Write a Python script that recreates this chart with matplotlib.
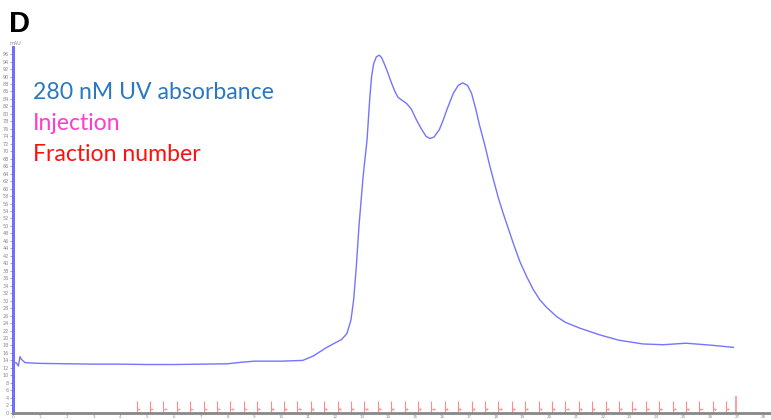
import matplotlib.pyplot as plt
from matplotlib.ticker import MultipleLocator

# UV trace (min, mAU)
time_min = [0.0, 0.0, 0.03, 0.12, 0.19, 0.25, 0.3, 0.44, 0.7, 1.0, 2.0, 3.0, 4.0,
            5.0, 6.0, 7.0, 8.0, 8.5, 9.0, 9.5, 10.0, 10.8, 11.2, 11.7, 12.25,
            12.45, 12.6, 12.7, 12.8, 12.9, 13.05, 13.2, 13.3, 13.37, 13.45, 13.55,
            13.66, 13.75, 13.85, 13.95, 14.1, 14.24, 14.35, 14.49, 14.6, 14.7,
            14.85, 15.05, 15.2, 15.4, 15.55, 15.7, 15.9, 16.04, 16.2, 16.42,
            16.6, 16.77, 16.95, 17.1, 17.25, 17.41, 17.6, 17.79, 17.95, 18.1,
            18.28, 18.66, 18.9, 19.16, 19.4, 19.65, 19.9, 20.28, 20.6, 21.15,
            21.9, 22.6, 23.5, 24.25, 25.1, 26.0, 26.87]
uv_mau = [0.0, 98.0, 13.5, 13.3, 12.5, 15.0, 14.3, 13.4, 13.3, 13.2, 13.1, 13.0, 13.0,
          12.9, 12.9, 13.0, 13.1, 13.5, 13.8, 13.8, 13.8, 14.0, 15.2, 17.5, 19.6,
          21.2, 24.8, 30.2, 39.1, 50.0, 63.0, 73.0, 84.0, 90.0, 93.5, 95.3,
          95.7, 95.0, 93.3, 91.5, 88.5, 86.0, 84.5, 83.7, 83.2, 82.6,
          81.3, 78.3, 76.3, 74.0, 73.4, 73.8, 75.8, 78.3, 81.5, 85.5,
          87.6, 88.3, 87.6, 85.5, 81.5, 76.6, 71.5, 65.8, 61.5, 57.5,
          53.4, 45.3, 40.5, 36.4, 33.0, 30.2, 28.2, 25.7, 24.2, 22.6,
          20.8, 19.4, 18.4, 18.2, 18.6, 18.1, 17.5]

injection_time = 0.0
injection_height = 30

# fraction marks every 0.5 min from 4.6 to 26.6, plus the end mark
fraction_times = [4.6 + 0.5 * i for i in range(45)]
fraction_labels = [str(i + 1) for i in range(45)]
end_mark_time = 26.95

legend_lines = ["280 nM UV absorbance", "Injection", "Fraction number"]
legend_colors = ["#2a78c2", "#ff3ccf", "#ff1010"]

fig = plt.figure(figsize=(7.71, 4.20), dpi=100)
ax = fig.add_axes([0.01725, 0.01738, 0.9819, 0.8716])

ax.plot(time_min, uv_mau, color="#7474ff", lw=1.0, zorder=3)
ax.vlines(injection_time, 0, injection_height, color="#ff55dd", lw=1.5, zorder=2)

ax.vlines(fraction_times, 0, 3, color="#ff8c8c", lw=0.8)
ax.hlines([1.0] * len(fraction_times), fraction_times,
          [t + 0.12 for t in fraction_times], color="#ff8c8c", lw=0.6)
for t, lab in zip(fraction_times, fraction_labels):
    ax.text(t + 0.04, 0.3, lab, fontsize=2, color="#ff8c8c", va="bottom")
ax.vlines(end_mark_time, 0, 4.5, color="#ff8c8c", lw=1.2)

ax.set_xlim(0, 28.25)
ax.set_ylim(0, 98)
ax.xaxis.set_major_locator(MultipleLocator(1))
ax.xaxis.set_minor_locator(MultipleLocator(0.2))
ax.set_yticks(range(0, 97, 2))
ax.tick_params(axis="y", which="major", labelsize=3.5, colors="#888888",
               length=2, width=0.5, pad=1)
ax.tick_params(axis="x", which="major", labelsize=3, colors="#888888",
               length=1, width=0.5, pad=0.3)
ax.tick_params(axis="x", which="minor", length=1, width=0.4, colors="#888888")

for side in ["top", "right"]:
    ax.spines[side].set_visible(False)
ax.spines["left"].set_color("#5a5aff")
ax.spines["left"].set_linewidth(2)
ax.spines["bottom"].set_color("#888888")
ax.spines["bottom"].set_linewidth(2)

fig.text(0.012, 0.893, "mAU", fontsize=3.5, color="#888888")
fig.text(0.012, 0.925, "D", fontsize=21, fontweight="bold",
         family="Liberation Sans", color="black")

baselines = [0.7636, 0.690, 0.6167]
for txt, col, yb in zip(legend_lines, legend_colors, baselines):
    fig.text(0.0428, yb, txt, fontsize=16.6, color=col, family="Lato",
             va="baseline")

fig.savefig("out.png", dpi=100)
